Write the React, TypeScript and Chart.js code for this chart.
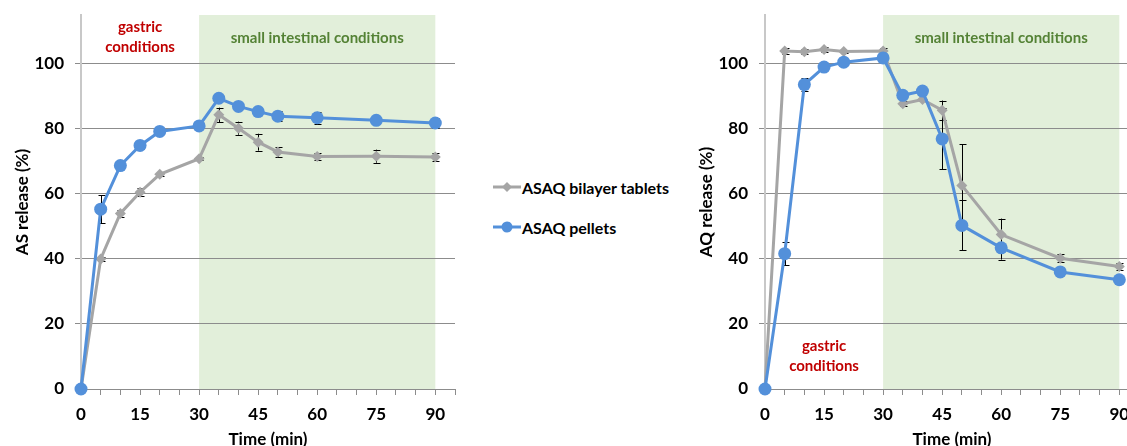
import React, { useEffect, useRef } from "react";
import { Chart, registerables } from "chart.js";

Chart.register(...registerables);

// ---- data ----
const times = [0, 5, 10, 15, 20, 30, 35, 40, 45, 50, 60, 75, 90];

const asTablets = [0, 40.0, 54.0, 60.5, 66.0, 70.8, 84.3, 80.2, 75.9, 72.9, 71.5, 71.6, 71.3];
const asTabletsErr = [0, 0.5, 1.0, 1.2, 0.5, 0.5, 2.2, 2.0, 2.6, 1.5, 1.0, 2.0, 1.3];
const asPellets = [0, 55.3, 68.7, 74.9, 79.2, 80.9, 89.4, 86.9, 85.3, 83.9, 83.4, 82.6, 81.8];
const asPelletsErr = [0, 4.3, 1.0, 1.2, 0.8, 0.8, 0.8, 0.8, 1.0, 1.5, 1.8, 0.8, 1.5];

const aqTablets = [0, 103.9, 103.7, 104.4, 103.8, 103.9, 87.7, 89.0, 85.7, 62.6, 47.5, 40.2, 37.7];
const aqTabletsErr = [0, 0.8, 0.8, 0.8, 0.5, 0.8, 0.8, 0.5, 3.0, 12.6, 4.9, 1.2, 1.0];
const aqPellets = [0, 41.6, 93.6, 99.0, 100.5, 101.8, 90.3, 91.6, 76.9, 50.3, 43.4, 36.0, 33.6];
const aqPelletsErr = [0, 3.6, 2.0, 0.5, 0.5, 0.5, 0.5, 0.5, 9.4, 7.7, 3.6, 0.5, 0.5];

const seriesNames = ["ASAQ bilayer tablets", "ASAQ pellets"];
const xTitle = "Time (min)";
const yTitles = ["AS release (%)", "AQ release (%)"];
const phaseStart = 30;
const phaseEnd = 90;

const FONT = "Lato, 'Open Sans', 'DejaVu Sans', sans-serif";
const GRAY = "#A5A5A5";
const BLUE = "#5390DA";
const GREEN_BG = "#E2EFDA";
const RED_TXT = "#C00000";
const GREEN_TXT = "#548235";

type Note = { lines: string[]; x: number; y: number; color: string };

const phasePlugin = {
  id: "phases",
  beforeDraw(chart: any) {
    const { ctx, chartArea, scales } = chart;
    const x1 = scales.x.getPixelForValue(phaseStart);
    const x2 = scales.x.getPixelForValue(phaseEnd);
    ctx.save();
    ctx.fillStyle = GREEN_BG;
    ctx.fillRect(x1, chartArea.top, x2 - x1, chartArea.bottom - chartArea.top);
    ctx.restore();
  },
  beforeDatasetsDraw(chart: any) {
    const { ctx, scales } = chart;
    const errs: number[][] = chart.options.plugins.phases.errors;
    ctx.save();
    ctx.strokeStyle = "#000";
    ctx.lineWidth = 1;
    chart.data.datasets.forEach((ds: any, i: number) => {
      const e = errs[i];
      ds.data.forEach((p: any, j: number) => {
        if (!e[j]) return;
        const px = Math.round(scales.x.getPixelForValue(p.x)) + 0.5;
        const yt = scales.y.getPixelForValue(p.y + e[j]);
        const yb = scales.y.getPixelForValue(p.y - e[j]);
        ctx.beginPath();
        ctx.moveTo(px, yt);
        ctx.lineTo(px, yb);
        ctx.moveTo(px - 3, Math.round(yt) + 0.5);
        ctx.lineTo(px + 4, Math.round(yt) + 0.5);
        ctx.moveTo(px - 3, Math.round(yb) + 0.5);
        ctx.lineTo(px + 4, Math.round(yb) + 0.5);
        ctx.stroke();
      });
    });
    ctx.restore();
  },
  afterDatasetsDraw(chart: any) {
    const { ctx, scales } = chart;
    const notes: Note[] = chart.options.plugins.phases.notes;
    ctx.save();
    ctx.font = `bold 15px ${FONT}`;
    ctx.textAlign = "center";
    ctx.textBaseline = "middle";
    notes.forEach((n) => {
      ctx.fillStyle = n.color;
      const cx = scales.x.getPixelForValue(n.x);
      const cy = scales.y.getPixelForValue(n.y);
      n.lines.forEach((l, k) => ctx.fillText(l, cx, cy + k * 20));
    });
    ctx.restore();
  },
};

function Panel({
  tablets,
  tabletsErr,
  pellets,
  pelletsErr,
  yTitle,
  notes,
  left,
}: {
  tablets: number[];
  tabletsErr: number[];
  pellets: number[];
  pelletsErr: number[];
  yTitle: string;
  notes: Note[];
  left: number;
}) {
  const ref = useRef<HTMLCanvasElement>(null);
  useEffect(() => {
    const chart = new Chart(ref.current as HTMLCanvasElement, {
      type: "line",
      data: {
        datasets: [
          {
            label: seriesNames[0],
            data: times.map((t, i) => ({ x: t, y: tablets[i] })),
            borderColor: GRAY,
            backgroundColor: GRAY,
            borderWidth: 3,
            pointStyle: "rectRot",
            pointRadius: 5.5,
            pointBorderWidth: 0,
            order: 2,
            clip: false,
          },
          {
            label: seriesNames[1],
            data: times.map((t, i) => ({ x: t, y: pellets[i] })),
            borderColor: BLUE,
            backgroundColor: BLUE,
            borderWidth: 3,
            pointStyle: "circle",
            pointRadius: 6.5,
            pointBorderWidth: 0,
            order: 1,
            clip: false,
          },
        ],
      },
      options: {
        animation: false,
        responsive: false,
        events: [],
        layout: { autoPadding: false, padding: { top: 15, right: 15, left: 0, bottom: 0 } },
        plugins: {
          legend: { display: false },
          tooltip: { enabled: false },
          phases: {
            errors: [tabletsErr, pelletsErr],
            notes,
          },
        } as any,
        scales: {
          x: {
            type: "linear",
            min: 0,
            max: 95,
            afterFit: (s: any) => {
              s.height = 71;
              s.paddingLeft = 0;
              s.paddingRight = 0;
            },
            ticks: {
              stepSize: 5,
              autoSkip: false,
              maxRotation: 0,
              padding: 9,
              color: "#000",
              font: { family: FONT, size: 17, weight: "bold" },
              callback: (v: any) => (Number(v) % 15 === 0 ? String(v) : ""),
            },
            grid: {
              drawOnChartArea: false,
              drawTicks: true,
              tickLength: 6,
              color: "#8C8C8C",
            },
            border: { color: "#8C8C8C", width: 1 },
            title: {
              display: true,
              text: xTitle,
              color: "#000",
              font: { family: FONT, size: 17, weight: "bold" },
              padding: { top: 0, bottom: 10 },
            },
          },
          y: {
            type: "linear",
            min: 0,
            max: 115,
            afterFit: (s: any) => {
              s.width = 81;
              s.paddingTop = 0;
              s.paddingBottom = 0;
            },
            afterBuildTicks: (s: any) => {
              s.ticks = s.ticks.filter((t: any) => t.value <= 100);
            },
            ticks: {
              stepSize: 20,
              padding: 11,
              color: "#000",
              font: { family: FONT, size: 17, weight: "bold" },
            },
            grid: {
              color: "#8C8C8C",
              drawTicks: true,
              tickLength: 6,
            },
            border: { color: "#C8C8C8", width: 2 },
            title: {
              display: true,
              text: yTitle,
              color: "#000",
              font: { family: FONT, size: 17, weight: "bold" },
              padding: { top: 12, bottom: 0 },
            },
          },
        },
      },
      plugins: [phasePlugin],
    } as any);
    return () => chart.destroy();
  }, []);
  return (
    <canvas
      ref={ref}
      width={470}
      height={460}
      style={{ position: "absolute", left, top: 0, display: "block" }}
    />
  );
}

function LegendItem({ label, kind, top }: { label: string; kind: "diamond" | "circle"; top: number }) {
  const color = kind === "diamond" ? GRAY : BLUE;
  return (
    <div style={{ position: "absolute", left: 493, top, height: 20, display: "flex", alignItems: "center" }}>
      <svg width={28} height={20} style={{ display: "block" }}>
        <line x1={0} y1={10} x2={28} y2={10} stroke={color} strokeWidth={3} />
        {kind === "diamond" ? (
          <polygon points="14,5 19,10 14,15 9,10" fill={color} />
        ) : (
          <circle cx={14} cy={10} r={5.5} fill={color} />
        )}
      </svg>
      <span
        style={{
          fontFamily: FONT,
          fontWeight: "bold",
          fontSize: 16,
          color: "#000",
          marginLeft: 1,
          whiteSpace: "nowrap",
        }}
      >
        {label}
      </span>
    </div>
  );
}

export default function App() {
  return (
    <div
      style={{
        position: "fixed",
        left: 0,
        top: 0,
        width: 1127,
        height: 446,
        overflow: "hidden",
        background: "#fff",
      }}
    >
      <Panel
        tablets={asTablets}
        tabletsErr={asTabletsErr}
        pellets={asPellets}
        pelletsErr={asPelletsErr}
        yTitle={yTitles[0]}
        left={0}
        notes={[
          { lines: ["gastric", "conditions"], x: 15, y: 111.2, color: RED_TXT },
          { lines: ["small intestinal conditions"], x: 60, y: 107.8, color: GREEN_TXT },
        ]}
      />
      <LegendItem label={seriesNames[0]} kind="diamond" top={177} />
      <LegendItem label={seriesNames[1]} kind="circle" top={217} />
      <Panel
        tablets={aqTablets}
        tabletsErr={aqTabletsErr}
        pellets={aqPellets}
        pelletsErr={aqPelletsErr}
        yTitle={yTitles[1]}
        left={684}
        notes={[
          { lines: ["gastric", "conditions"], x: 15, y: 13.3, color: RED_TXT },
          { lines: ["small intestinal conditions"], x: 60, y: 107.8, color: GREEN_TXT },
        ]}
      />
    </div>
  );
}
